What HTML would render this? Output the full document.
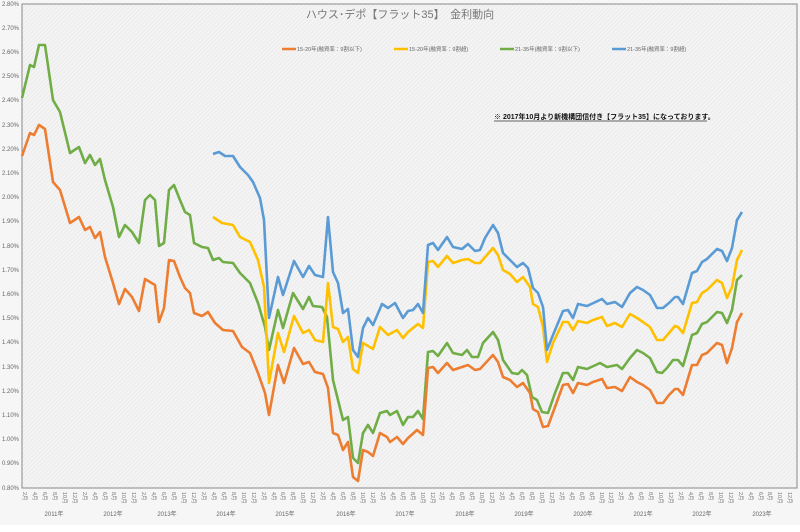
<!DOCTYPE html>
<html><head><meta charset="utf-8"><style>
html,body{margin:0;padding:0;background:#fff;}
svg{display:block;font-family:"Liberation Sans","Noto Sans CJK JP",sans-serif;}
</style></head><body>
<svg width="800" height="532" viewBox="0 0 800 532" xmlns="http://www.w3.org/2000/svg">
<defs>
<pattern id="h" width="3" height="3" patternUnits="userSpaceOnUse" patternTransform="rotate(45)">
<rect width="3" height="3" fill="#f4f4f4"/><rect width="1" height="3" fill="#ebebeb"/>
</pattern>
</defs>
<rect x="0" y="0" width="800" height="532" fill="#f6f6f6"/>
<rect x="0" y="525" width="800" height="7" fill="#fff"/>
<rect x="22" y="4" width="775" height="484" fill="url(#h)" stroke="#888" stroke-width="1"/>
<g font-size="6" fill="#666" text-anchor="end">
<text x="19" y="6">2.80%</text><text x="19" y="30">2.70%</text><text x="19" y="54">2.60%</text><text x="19" y="78">2.50%</text><text x="19" y="102">2.40%</text><text x="19" y="127">2.30%</text><text x="19" y="151">2.20%</text><text x="19" y="175">2.10%</text><text x="19" y="199">2.00%</text><text x="19" y="223">1.90%</text><text x="19" y="248">1.80%</text><text x="19" y="272">1.70%</text><text x="19" y="296">1.60%</text><text x="19" y="320">1.50%</text><text x="19" y="344">1.40%</text><text x="19" y="369">1.30%</text><text x="19" y="393">1.20%</text><text x="19" y="417">1.10%</text><text x="19" y="441">1.00%</text><text x="19" y="465">0.90%</text><text x="19" y="490">0.80%</text>
</g>
<text x="400" y="18" font-size="11" fill="#777" text-anchor="middle">ハウス･デポ【フラット35】　金利動向</text>
<g font-size="5.5" fill="#666">
<line x1="282" y1="49" x2="296" y2="49" stroke="#ed7d31" stroke-width="2.5"/><text x="297" y="51">15-20年(融資率：9割以下)</text>
<line x1="394" y1="49" x2="408" y2="49" stroke="#ffc000" stroke-width="2.5"/><text x="409" y="51">15-20年(融資率：9割超)</text>
<line x1="500" y1="49" x2="514" y2="49" stroke="#70ad47" stroke-width="2.5"/><text x="515" y="51">21-35年(融資率：9割以下)</text>
<line x1="612" y1="49" x2="626" y2="49" stroke="#5b9bd5" stroke-width="2.5"/><text x="627" y="51">21-35年(融資率：9割超)</text>
</g>
<text x="494" y="119" font-size="7" font-weight="bold" fill="#111">※ 2017年10月より新機構団信付き【フラット35】になっております。</text>
<line x1="494" y1="121" x2="707" y2="121" stroke="#333" stroke-width="0.8"/>
<g fill="none" stroke-width="2.6" stroke-linejoin="round">
<polyline stroke="#70ad47" points="22,98 30,65 34,67 39,45 45,45 53,100 60,112 70,153 79,147 85,163 90,155 95,165 100,159 105,180 113,207 119,237 125,225 132,232 139,243 145,200 150,195 155,200 159,246 164,243 169,190 174,185 180,200 185,212 190,215 194,243 202,247 208,248 213,260 219,258 223,262 233,263 240,273 250,283 258,303 265,327 269,350 278,310 283,328 293,293 303,309 309,297 313,306 322,307 327,317 333,380 343,420 348,417 353,458 358,463 363,433 368,425 373,433 380,413 387,411 390,415 397,411 403,425 408,417 413,417 418,411 423,419 428,352 433,351 438,356 447,343 453,353 462,355 467,350 472,357 478,357 483,343 493,332 498,340 503,360 512,373 518,374 522,370 527,375 532,397 537,400 542,412 548,413 555,393 563,373 568,373 573,380 578,367 587,369 600,363 607,367 617,365 622,369 630,358 637,350 643,353 650,358 657,372 662,373 667,368 673,360 678,360 683,366 692,335 697,333 702,324 707,322 717,312 722,313 727,323 732,310 737,280 742,275"/>
<polyline stroke="#ed7d31" points="22,156 30,133 34,135 39,125 45,129 53,182 60,190 70,223 79,217 85,230 90,227 95,238 100,232 105,257 113,283 119,304 125,289 132,297 139,311 145,279 150,282 155,285 159,322 164,308 169,260 174,261 180,277 185,288 190,293 194,313 202,316 208,312 215,323 223,330 233,331 242,347 250,353 258,373 265,393 269,415 278,365 284,383 294,348 303,364 309,362 315,372 323,374 328,388 333,433 338,435 343,450 348,442 353,477 358,481 363,450 368,452 373,456 380,433 387,437 390,442 397,437 403,444 408,438 417,430 423,435 428,368 433,367 438,373 447,363 453,370 462,367 468,365 475,370 480,369 493,355 498,362 503,377 510,380 517,387 523,383 530,393 533,409 538,412 543,427 548,426 555,407 563,385 568,384 573,393 578,383 587,385 593,382 602,379 607,388 615,387 622,391 630,377 637,382 643,385 650,390 657,403 663,403 669,395 675,389 678,389 683,395 692,365 697,365 702,355 707,353 717,343 722,345 727,363 732,348 737,322 742,313"/>
<polyline stroke="#ffc000" points="213,217 222,223 233,225 240,237 250,242 258,260 264,287 269,383 278,333 284,352 294,316 303,333 309,330 315,340 323,342 328,283 333,327 338,329 343,342 348,337 353,369 358,373 363,343 373,349 380,327 388,335 397,330 403,338 408,332 418,324 423,328 428,262 433,261 438,267 447,256 453,263 462,260 468,259 475,263 480,263 493,248 498,255 503,270 510,274 517,282 523,277 530,287 533,304 538,307 543,327 547,362 553,343 563,322 568,322 573,330 578,321 587,323 593,320 602,317 607,326 615,323 622,327 630,314 637,318 643,322 650,327 657,340 663,340 669,333 675,326 678,327 683,333 692,303 697,302 702,293 707,290 717,280 722,283 727,298 732,287 737,260 742,250"/>
<polyline stroke="#5b9bd5" points="213,154 219,152 225,156 233,156 240,167 248,175 253,182 260,198 264,220 269,318 278,277 283,295 294,261 303,277 309,266 315,275 323,277 328,217 333,272 338,283 343,313 348,309 353,350 358,357 363,328 368,318 373,325 382,304 388,308 395,303 403,318 408,311 413,310 418,304 423,313 428,245 433,243 438,250 447,237 453,247 462,249 468,244 475,251 480,250 485,238 493,225 498,233 503,253 510,260 517,267 523,263 528,268 533,288 538,293 543,307 547,350 553,335 563,311 568,310 573,318 578,304 587,306 602,299 607,304 615,302 622,307 630,293 637,287 643,290 650,295 657,308 663,308 669,303 675,297 678,297 683,304 692,273 697,271 702,262 707,259 717,249 722,251 727,261 732,248 737,220 742,212"/>
</g>
<g font-size="5.5" fill="#777">
<text transform="translate(23,492) rotate(90)">2月</text><text transform="translate(33,492) rotate(90)">4月</text><text transform="translate(43,492) rotate(90)">6月</text><text transform="translate(53,492) rotate(90)">8月</text><text transform="translate(63,492) rotate(90)">10月</text><text transform="translate(73,492) rotate(90)">12月</text>
<text transform="translate(83,492) rotate(90)">2月</text><text transform="translate(93,492) rotate(90)">4月</text><text transform="translate(103,492) rotate(90)">6月</text><text transform="translate(112,492) rotate(90)">8月</text><text transform="translate(122,492) rotate(90)">10月</text><text transform="translate(132,492) rotate(90)">12月</text>
<text transform="translate(142,492) rotate(90)">2月</text><text transform="translate(152,492) rotate(90)">4月</text><text transform="translate(162,492) rotate(90)">6月</text><text transform="translate(172,492) rotate(90)">8月</text><text transform="translate(182,492) rotate(90)">10月</text><text transform="translate(192,492) rotate(90)">12月</text>
<text transform="translate(202,492) rotate(90)">2月</text><text transform="translate(212,492) rotate(90)">4月</text><text transform="translate(222,492) rotate(90)">6月</text><text transform="translate(232,492) rotate(90)">8月</text><text transform="translate(242,492) rotate(90)">10月</text><text transform="translate(252,492) rotate(90)">12月</text>
<text transform="translate(262,492) rotate(90)">2月</text><text transform="translate(272,492) rotate(90)">4月</text><text transform="translate(281,492) rotate(90)">6月</text><text transform="translate(291,492) rotate(90)">8月</text><text transform="translate(301,492) rotate(90)">10月</text><text transform="translate(311,492) rotate(90)">12月</text>
<text transform="translate(321,492) rotate(90)">2月</text><text transform="translate(331,492) rotate(90)">4月</text><text transform="translate(341,492) rotate(90)">6月</text><text transform="translate(351,492) rotate(90)">8月</text><text transform="translate(361,492) rotate(90)">10月</text><text transform="translate(371,492) rotate(90)">12月</text>
<text transform="translate(381,492) rotate(90)">2月</text><text transform="translate(391,492) rotate(90)">4月</text><text transform="translate(401,492) rotate(90)">6月</text><text transform="translate(411,492) rotate(90)">8月</text><text transform="translate(421,492) rotate(90)">10月</text><text transform="translate(431,492) rotate(90)">12月</text>
<text transform="translate(440,492) rotate(90)">2月</text><text transform="translate(450,492) rotate(90)">4月</text><text transform="translate(460,492) rotate(90)">6月</text><text transform="translate(470,492) rotate(90)">8月</text><text transform="translate(480,492) rotate(90)">10月</text><text transform="translate(490,492) rotate(90)">12月</text>
<text transform="translate(500,492) rotate(90)">2月</text><text transform="translate(510,492) rotate(90)">4月</text><text transform="translate(520,492) rotate(90)">6月</text><text transform="translate(530,492) rotate(90)">8月</text><text transform="translate(540,492) rotate(90)">10月</text><text transform="translate(550,492) rotate(90)">12月</text>
<text transform="translate(560,492) rotate(90)">2月</text><text transform="translate(570,492) rotate(90)">4月</text><text transform="translate(580,492) rotate(90)">6月</text><text transform="translate(590,492) rotate(90)">8月</text><text transform="translate(600,492) rotate(90)">10月</text><text transform="translate(609,492) rotate(90)">12月</text>
<text transform="translate(619,492) rotate(90)">2月</text><text transform="translate(629,492) rotate(90)">4月</text><text transform="translate(639,492) rotate(90)">6月</text><text transform="translate(649,492) rotate(90)">8月</text><text transform="translate(659,492) rotate(90)">10月</text><text transform="translate(669,492) rotate(90)">12月</text>
<text transform="translate(679,492) rotate(90)">2月</text><text transform="translate(689,492) rotate(90)">4月</text><text transform="translate(699,492) rotate(90)">6月</text><text transform="translate(709,492) rotate(90)">8月</text><text transform="translate(719,492) rotate(90)">10月</text><text transform="translate(729,492) rotate(90)">12月</text>
<text transform="translate(739,492) rotate(90)">2月</text><text transform="translate(749,492) rotate(90)">4月</text><text transform="translate(759,492) rotate(90)">6月</text><text transform="translate(768,492) rotate(90)">8月</text><text transform="translate(778,492) rotate(90)">10月</text><text transform="translate(788,492) rotate(90)">12月</text>
</g>
<g font-size="6" fill="#666" text-anchor="middle">
<text x="54" y="516">2011年</text><text x="113" y="516">2012年</text><text x="167" y="516">2013年</text><text x="226" y="516">2014年</text><text x="285" y="516">2015年</text><text x="346" y="516">2016年</text><text x="405" y="516">2017年</text><text x="465" y="516">2018年</text><text x="524" y="516">2019年</text><text x="583" y="516">2020年</text><text x="643" y="516">2021年</text><text x="702" y="516">2022年</text><text x="762" y="516">2023年</text>
</g>
</svg>
</body></html>
